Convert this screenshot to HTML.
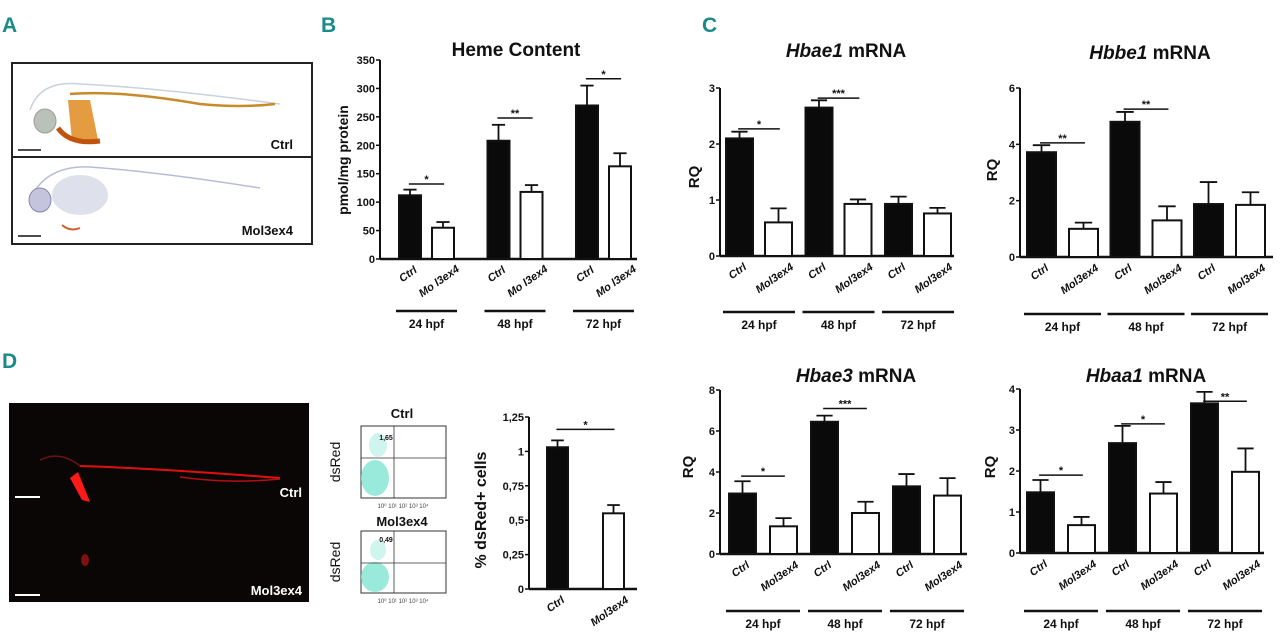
<!DOCTYPE html>
<html><head><meta charset="utf-8">
<style>
html,body{margin:0;padding:0;background:#fff;width:1280px;height:641px;overflow:hidden;}
svg{display:block;font-family:"Liberation Sans",Arial,sans-serif;}
.pl{fill:#1a8a8a;font-weight:bold;font-size:21px;}
.t{font-weight:bold;fill:#111;}
</style></head>
<body>
<svg id="fig" width="1280" height="641" viewBox="0 0 1280 641">
<text class="pl" x="2" y="32">A</text>
<text class="pl" x="321" y="32">B</text>
<text class="pl" x="702" y="32">C</text>
<text class="pl" x="2" y="368">D</text>

<g>
  <rect x="12" y="63" width="300" height="181" fill="#fff" stroke="#222" stroke-width="2"/>
  <line x1="12" y1="157" x2="312" y2="157" stroke="#222" stroke-width="2"/>
  <g>
    <path d="M30 110 Q40 80 80 84 Q160 88 280 104" fill="none" stroke="#c9d2dc" stroke-width="1.5"/>
    <ellipse cx="45" cy="121" rx="11" ry="12" fill="#b9c1b8" stroke="#98a296"/>
    <path d="M70 94 Q120 90 200 104 Q240 108 275 104" fill="none" stroke="#c88a2a" stroke-width="2.5"/>
    <path d="M68 100 L90 100 L98 140 L72 140 Z" fill="#e08a1e" opacity="0.85"/>
    <path d="M58 128 Q70 145 100 141" fill="none" stroke="#c0540e" stroke-width="5"/>
    <text class="t" x="293" y="149" font-size="13" text-anchor="end">Ctrl</text>
    <line x1="18" y1="150" x2="41" y2="150" stroke="#111" stroke-width="1.5"/>
  </g>
  <g>
    <path d="M30 200 Q45 165 90 167 Q160 172 260 188" fill="none" stroke="#b9bcd8" stroke-width="1.5"/>
    <ellipse cx="40" cy="200" rx="11" ry="12" fill="#c4c4dc" stroke="#8888a8"/>
    <ellipse cx="80" cy="195" rx="28" ry="20" fill="#c8cce0" opacity="0.6"/>
    <path d="M62 225 Q70 232 80 228" fill="none" stroke="#d06030" stroke-width="2"/>
    <text class="t" x="293" y="235" font-size="13" text-anchor="end">Mol3ex4</text>
    <line x1="18" y1="236" x2="41" y2="236" stroke="#111" stroke-width="1.5"/>
  </g>
</g>

<g>
  <rect x="9" y="403" width="300" height="199" fill="#0b0606"/>
  <path d="M80 466 Q150 468 280 478" fill="none" stroke="#e01010" stroke-width="2"/>
  <path d="M180 477 Q230 484 280 479" fill="none" stroke="#b01010" stroke-width="1.5"/>
  <path d="M70 478 L82 500 L90 502 L78 472 Z" fill="#ff1a1a"/>
  <path d="M40 460 Q60 450 80 466" fill="none" stroke="#701010" stroke-width="1.5"/>
  <ellipse cx="85" cy="560" rx="4" ry="6" fill="#801010"/>
  <text x="302" y="497" font-size="13" font-weight="bold" fill="#fff" text-anchor="end">Ctrl</text>
  <text x="302" y="595" font-size="13" font-weight="bold" fill="#fff" text-anchor="end">Mol3ex4</text>
  <line x1="15" y1="497" x2="40" y2="497" stroke="#fff" stroke-width="2"/>
  <line x1="15" y1="595" x2="40" y2="595" stroke="#fff" stroke-width="2"/>
</g>

<g>
  <text class="t" x="402" y="418" font-size="13" text-anchor="middle">Ctrl</text>
  <text x="340" y="462" font-size="14" text-anchor="middle" transform="rotate(-90 340 462)" fill="#111">dsRed</text>
  <rect x="361" y="426" width="85" height="72" fill="#fff" stroke="#333"/>
  <ellipse cx="375" cy="478" rx="14" ry="18" fill="#8fe8d8" opacity="0.9"/>
  <ellipse cx="378" cy="445" rx="9" ry="12" fill="#c4f3ea" opacity="0.8"/>
  <line x1="394" y1="426" x2="394" y2="498" stroke="#333" stroke-width="0.8"/>
  <line x1="361" y1="458" x2="446" y2="458" stroke="#333" stroke-width="0.8"/>
  <text x="386" y="440" font-size="7" font-weight="bold" text-anchor="middle" fill="#111">1,65</text>
  <text x="403" y="508" font-size="6" text-anchor="middle" fill="#444">10⁰   10¹   10²   10³   10⁴</text>

  <text class="t" x="402" y="526" font-size="13" text-anchor="middle">Mol3ex4</text>
  <text x="340" y="562" font-size="14" text-anchor="middle" transform="rotate(-90 340 562)" fill="#111">dsRed</text>
  <rect x="361" y="531" width="85" height="62" fill="#fff" stroke="#333"/>
  <ellipse cx="375" cy="577" rx="14" ry="15" fill="#8fe8d8" opacity="0.9"/>
  <ellipse cx="378" cy="550" rx="8" ry="10" fill="#c4f3ea" opacity="0.8"/>
  <line x1="394" y1="531" x2="394" y2="593" stroke="#333" stroke-width="0.8"/>
  <line x1="361" y1="563" x2="446" y2="563" stroke="#333" stroke-width="0.8"/>
  <text x="386" y="542" font-size="7" font-weight="bold" text-anchor="middle" fill="#111">0,49</text>
  <text x="403" y="603" font-size="6" text-anchor="middle" fill="#444">10⁰   10¹   10²   10³   10⁴</text>
</g>

<g id="charts"></g>
</svg>

<script>
const hemeCategories = ["Ctrl","Mo l3ex4","Ctrl","Mo l3ex4","Ctrl","Mo l3ex4"];
const hemeValues = [112, 55, 208, 118, 270, 163];
const hemeErrors = [10, 10, 28, 12, 35, 23];
const hemeTicks = ["0","50","100","150","200","250","300","350"];
const hemeSig = [[0,1,132,"*"],[2,3,248,"**"],[4,5,317,"*"]];

const moCategories = ["Ctrl","Mol3ex4","Ctrl","Mol3ex4","Ctrl","Mol3ex4"];
const groupLabels = ["24 hpf","48 hpf","72 hpf"];

const hbae1Values = [2.1, 0.6, 2.65, 0.93, 0.93, 0.76];
const hbae1Errors = [0.12, 0.25, 0.13, 0.08, 0.13, 0.1];
const hbae1Ticks = ["0","1","2","3"];
const hbae1Sig = [[0,1,2.27,"*"],[2,3,2.82,"***"]];

const hbbe1Values = [3.72, 1.0, 4.8, 1.3, 1.88, 1.85];
const hbbe1Errors = [0.25, 0.22, 0.35, 0.5, 0.78, 0.45];
const hbbe1Ticks = ["0","2","4","6"];
const hbbe1Sig = [[0,1,4.05,"**"],[2,3,5.25,"**"]];

const hbae3Values = [2.95, 1.35, 6.45, 2.0, 3.3, 2.85];
const hbae3Errors = [0.6, 0.4, 0.3, 0.55, 0.6, 0.85];
const hbae3Ticks = ["0","2","4","6","8"];
const hbae3Sig = [[0,1,3.8,"*"],[2,3,7.1,"***"]];

const hbaa1Values = [1.48, 0.68, 2.68, 1.45, 3.65, 1.98];
const hbaa1Errors = [0.3, 0.2, 0.42, 0.28, 0.28, 0.57];
const hbaa1Ticks = ["0","1","2","3","4"];
const hbaa1Sig = [[0,1,1.9,"*"],[2,3,3.15,"*"],[4,5,3.7,"**"]];

const dsCategories = ["Ctrl","Mol3ex4"];
const dsValues = [1.03, 0.55];
const dsErrors = [0.05, 0.06];
const dsTicks = ["0","0,25","0,5","0,75","1","1,25"];
const dsSig = [[0,1,1.16,"*"]];

const NS = "http://www.w3.org/2000/svg";
const root = document.getElementById("charts");
function mk(tag, attrs, parent){
  const e = document.createElementNS(NS, tag);
  for (const k in attrs) e.setAttribute(k, attrs[k]);
  (parent||root).appendChild(e);
  return e;
}

function drawChart(c){
  const g = mk("g", {});
  
  
  const yS = v => c.zeroY - (v / c.max) * (c.zeroY - c.topY);
  const xS = i => c.x0 + Math.floor(i / 2) * c.gstep + (i % 2) * c.inner;
  if (c.title){
    const t = mk("text", {x:c.titleX, y:c.titleY, "font-size":19, "font-weight":"bold", "text-anchor":"middle", fill:"#111"}, g);
    
    
    if (c.italic){
      const s1 = mk("tspan", {"font-style":"italic"}, t); s1.textContent = c.italic;
      const s2 = mk("tspan", {}, t); s2.textContent = " " + c.title;
    } else t.textContent = c.title;
  }
  const yl = mk("text", {x:c.ylX, y:c.ylY, "font-size":c.ylSize||15, "font-weight":"bold", "text-anchor":"middle", fill:"#111", transform:"rotate(-90 "+c.ylX+" "+c.ylY+")"}, g);
  yl.textContent = c.ylabel;
  
  
  const ya = mk("line", {x1:c.axisX, y1:c.topY, x2:c.axisX, y2:c.zeroY, stroke:"#111", "stroke-width":2}, g);
  
  
  const xa = mk("line", {x1:c.axisX, y1:c.zeroY, x2:c.axisEnd, y2:c.zeroY, stroke:"#111", "stroke-width":2.5}, g);
  
  
  const n = c.ticks.length;
  c.ticks.forEach((lab, k) => {
    const v = c.max * k / (n - 1);
    const y = yS(v);
    mk("line", {x1:c.axisX-4, y1:y, x2:c.axisX, y2:y, stroke:"#111", "stroke-width":1.5}, g);
    const tt = mk("text", {x:c.axisX-5, y:y+4, "font-size":11, "font-weight":"bold", "text-anchor":"end", fill:"#111"}, g);
    tt.textContent = lab;
    
    
  });
  c.values.forEach((v, i) => {
    const x = xS(i), y = yS(v), cx = x + c.bw / 2;
    const ctrl = i % 2 === 0;
    const eTop = yS(v + c.errors[i]);
    const el = mk("line", {x1:cx, y1:y, x2:cx, y2:eTop, stroke:"#111", "stroke-width":1.8}, g);
    
    
    mk("line", {x1:cx-c.bw*0.3, y1:eTop, x2:cx+c.bw*0.3, y2:eTop, stroke:"#111", "stroke-width":1.8}, g);
    const r = mk("rect", {x:x, y:y, width:c.bw, height:c.zeroY - y, fill: ctrl ? "#0a0a0a" : "#fff", stroke:"#111", "stroke-width":2}, g);
    
    
    const lab = c.categories[i];
    const ly = c.zeroY + (ctrl ? 18 : 25);
    const lx = cx + (ctrl ? 0 : -2);
    const tl = mk("text", {x:lx, y:ly, "font-size":11, "font-weight":"bold", "font-style":"italic", "text-anchor":"middle", fill:"#111", transform:"rotate(-35 "+lx+" "+ly+")"}, g);
    tl.textContent = lab;
    
    
  });
  c.sig.forEach(s => {
    const xa1 = xS(s[0]) + c.bw*0.45, xb = xS(s[1]) + c.bw*0.55, y = yS(s[2]);
    const sl = mk("line", {x1:xa1, y1:y, x2:xb, y2:y, stroke:"#111", "stroke-width":1.5}, g);
    
    
    const st = mk("text", {x:(xa1+xb)/2, y:y-1, "font-size":11, "font-weight":"bold", "text-anchor":"middle", fill:"#111"}, g);
    st.textContent = s[3];
    
    
  });
  if (c.groups){
    c.groups.forEach((lab, k) => {
      const x1 = xS(2*k) - 3, x2 = xS(2*k+1) + c.bw + 3;
      const gl = mk("line", {x1:x1, y1:c.groupY, x2:x2, y2:c.groupY, stroke:"#111", "stroke-width":2.5}, g);
      
      
      const gt = mk("text", {x:(x1+x2)/2, y:c.groupY+17, "font-size":12, "font-weight":"bold", "text-anchor":"middle", fill:"#111"}, g);
      gt.textContent = lab;
      
      
    });
  }
}

drawChart({name:"heme-content-chart", title:"Heme Content", titleX:516, titleY:56,
  ylabel:"pmol/mg protein", ylX:348, ylY:160, ylSize:14,
  axisX:380, axisEnd:637, zeroY:259, topY:60, max:350, ticks:hemeTicks,
  x0:399, gstep:88.5, inner:33, bw:22, values:hemeValues, errors:hemeErrors,
  categories:hemeCategories, sig:hemeSig, groups:groupLabels, groupY:311});

drawChart({name:"hbae1-chart", italic:"Hbae1", title:"mRNA", titleX:846, titleY:57,
  ylabel:"RQ", ylX:699, ylY:177,
  axisX:720, axisEnd:954, zeroY:256, topY:88, max:3, ticks:hbae1Ticks,
  x0:726, gstep:79.5, inner:39, bw:27, values:hbae1Values, errors:hbae1Errors,
  categories:moCategories, sig:hbae1Sig, groups:groupLabels, groupY:312});

drawChart({name:"hbbe1-chart", italic:"Hbbe1", title:"mRNA", titleX:1150, titleY:59,
  ylabel:"RQ", ylX:997, ylY:170,
  axisX:1020, axisEnd:1273, zeroY:257, topY:88, max:6, ticks:hbbe1Ticks,
  x0:1027, gstep:83.5, inner:42, bw:29, values:hbbe1Values, errors:hbbe1Errors,
  categories:moCategories, sig:hbbe1Sig, groups:groupLabels, groupY:314});

drawChart({name:"hbae3-chart", italic:"Hbae3", title:"mRNA", titleX:856, titleY:382,
  ylabel:"RQ", ylX:693, ylY:467,
  axisX:720, axisEnd:967, zeroY:554, topY:390, max:8, ticks:hbae3Ticks,
  x0:729, gstep:82, inner:41, bw:27, values:hbae3Values, errors:hbae3Errors,
  categories:moCategories, sig:hbae3Sig, groups:groupLabels, groupY:611});

drawChart({name:"hbaa1-chart", italic:"Hbaa1", title:"mRNA", titleX:1146, titleY:382,
  ylabel:"RQ", ylX:995, ylY:467,
  axisX:1020, axisEnd:1264, zeroY:553, topY:389, max:4, ticks:hbaa1Ticks,
  x0:1027, gstep:82, inner:41, bw:27, values:hbaa1Values, errors:hbaa1Errors,
  categories:moCategories, sig:hbaa1Sig, groups:groupLabels, groupY:611});

drawChart({name:"dsred-cells-chart",
  ylabel:"% dsRed+ cells", ylX:486, ylY:510, ylSize:16,
  axisX:529, axisEnd:637, zeroY:589, topY:417, max:1.25, ticks:dsTicks,
  x0:547, gstep:0, inner:56, bw:21, values:dsValues, errors:dsErrors,
  categories:dsCategories, sig:dsSig});
</script>
</body></html>
